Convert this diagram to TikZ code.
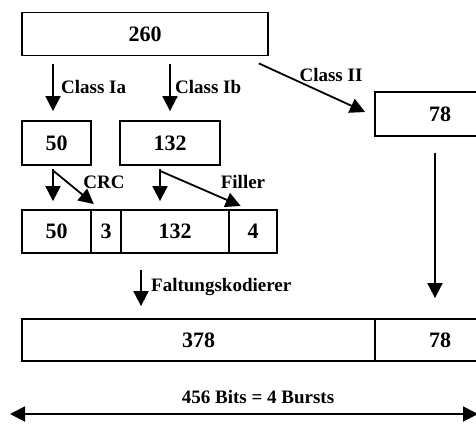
\documentclass[tikz,border=0pt]{standalone}
\usepackage{fontspec}
\setmainfont{Liberation Serif}
\usetikzlibrary{arrows.meta}

\begin{document}
\begin{tikzpicture}[x=1pt, y=-1pt,
  box/.style={draw, line width=1.8pt, inner sep=0pt, minimum height=43pt,
    font=\fontsize{22}{24}\bfseries\selectfont},
  arr/.style={line width=1.8pt, -{Triangle[length=15pt,width=15pt]}},
  lbl/.style={inner sep=0pt, font=\fontsize{19}{21}\bfseries\selectfont}]
  \clip (0,0) rectangle (476,424);
  \node[box, minimum width=246pt] (top) at (145,34) {260};
  \node[box, minimum width=130pt, minimum height=44pt] (cII) at (440,114) {78};
  \node[box, minimum width=69pt, minimum height=44pt] (b50) at (56.5,143) {50};
  \node[box, minimum width=100pt, minimum height=44pt] (b132) at (170,143) {132};
  \node[box, minimum width=69pt] (r50) at (56.5,231.5) {50};
  \node[box, minimum width=30pt] (r3) at (106,231.5) {3};
  \node[box, minimum width=108pt] (r132) at (175,231.5) {132};
  \node[box, minimum width=48pt] (r4) at (253,231.5) {4};
  \node[box, minimum width=353pt, minimum height=42pt] (b378) at (198.5,340) {378};
  \node[box, minimum width=130pt, minimum height=42pt] (b78) at (440,340) {78};
  \draw[arr, shorten <=8pt, shorten >=9pt] (top.south -| 53,0) -- (b50.north -| 53,0);
  \draw[arr, shorten <=8pt, shorten >=9pt] (top.south -| b132) -- (b132.north);
  \draw[arr] ([shift={(-10,7)}]top.south east) -- ([shift={(-9,-2)}]cII.west);
  \node[lbl, anchor=west] (la) at (61,87) {Class Ia};
  \node[lbl, anchor=west] (lb) at (175,87) {Class Ib};
  \node[lbl] (lII) at (331,75) {Class II};
  \draw[arr, shorten <=3pt, shorten >=8pt] (b50.south -| 53,0) -- (r50.north -| 53,0);
  \draw[arr, shorten >=8pt] ([shift={(-3,5)}]b50.south) -- (r3.north -| 100,0);
  \draw[arr, shorten <=3pt, shorten >=8pt] (b132.south -| 160,0) -- (r132.north -| 160,0);
  \draw[arr, shorten >=8pt] ([shift={(-10,5)}]b132.south) -- (r4.north -| 248,0);
  \node[lbl] (crc) at (104,182) {CRC};
  \node[lbl] (fill) at (243,182) {Filler};
  \coordinate (fk) at (141,270);
  \draw[arr, shorten >=12pt] (fk) -- (b378.north -| fk);
  \node[lbl, anchor=west] (lfk) at (151,287) {Faltungskodierer};
  \draw[arr, shorten <=16pt, shorten >=20pt] (cII.south -| 435,0) -- (b78.north -| 435,0);
  \node[lbl] (bits) at (258,397) {456 Bits = 4 Bursts};
  \coordinate (dl) at (10,414);
  \coordinate (dr) at (478,414);
  \draw[line width=1.8pt, {Triangle[length=15pt,width=15pt]}-{Triangle[length=15pt,width=15pt]}] (dl) -- (dr);
\end{tikzpicture}
\end{document}
